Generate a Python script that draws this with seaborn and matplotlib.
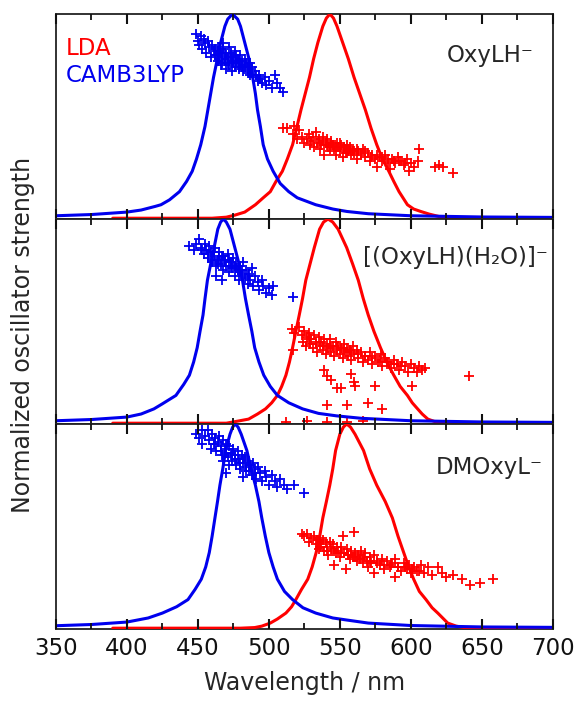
import numpy as np
import pandas as pd
import matplotlib
matplotlib.use('Agg')
import matplotlib.pyplot as plt
import seaborn as sns

# ---- curvas, comprimento de onda em nm / forca normalizada ----
# painel 1: OxyLH-
wl_cam_1 = [350, 375, 400, 410, 420, 424, 430, 437, 442, 446, 449, 452, 455, 457, 459, 461, 464, 466, 469, 471, 474.3,
            478, 480, 483, 486, 488.6, 490.5, 492, 494, 496, 499, 503, 508, 514, 520, 533, 545, 555, 570, 600, 650, 700]
f_cam_1 = [0.012, 0.018, 0.03, 0.04, 0.058, 0.066, 0.09, 0.13, 0.18, 0.23, 0.29, 0.36, 0.45, 0.53, 0.61, 0.69, 0.79, 0.86, 0.94, 0.975, 1.0,
           0.975, 0.94, 0.86, 0.78, 0.69, 0.61, 0.53, 0.45, 0.36, 0.29, 0.23, 0.17, 0.13, 0.10, 0.066, 0.045, 0.033, 0.022, 0.012, 0.006, 0.004]
wl_lda_1 = [390, 460, 470, 476, 483, 490.5, 496, 501, 505, 509.5, 513, 516.7, 519.5, 522.6, 525.6, 528.6, 531.5, 534.5, 538, 540.5, 543,
            545.5, 548, 552, 556, 560, 564, 568, 572, 576, 580, 584.5, 588, 591.7, 597.6, 602, 607, 613, 620, 628, 700]
f_lda_1 = [0.0, 0.0, 0.005, 0.015, 0.03, 0.066, 0.10, 0.13, 0.18, 0.23, 0.29, 0.36, 0.44, 0.53, 0.61, 0.69, 0.78, 0.86, 0.94, 0.98, 1.0,
           0.98, 0.94, 0.86, 0.78, 0.69, 0.61, 0.53, 0.44, 0.36, 0.29, 0.23, 0.18, 0.13, 0.066, 0.045, 0.033, 0.02, 0.008, 0.0, 0.0]

# painel 2: [(OxyLH)(H2O)]-
wl_cam_2 = [350, 375, 400, 410, 419, 425, 434.5, 440, 444, 447, 449.5, 451.5, 453.6, 455, 456.7, 459, 461.4, 464, 466, 467.9,
            470, 472.6, 476, 479, 481.4, 483.5, 485.7, 488, 490, 493, 496.4, 501, 506, 514, 523.8, 535, 547.6, 565, 600, 650, 700]
f_cam_2 = [0.012, 0.018, 0.03, 0.045, 0.07, 0.095, 0.136, 0.19, 0.235, 0.30, 0.37, 0.45, 0.53, 0.61, 0.70, 0.78, 0.86, 0.95, 0.985, 1.0,
           0.985, 0.95, 0.86, 0.78, 0.70, 0.61, 0.53, 0.45, 0.37, 0.30, 0.235, 0.18, 0.136, 0.10, 0.07, 0.048, 0.036, 0.024, 0.012, 0.006, 0.004]
wl_lda_2 = [390, 470, 478, 485.7, 492, 497.6, 502, 506, 509, 512, 514.5, 516.7, 519, 521.4, 523.7, 526, 529, 532, 535.7, 538.5, 541.7,
            545, 548.8, 554.8, 559, 563, 566.5, 570, 574, 578.6, 583, 588, 592.5, 597.6, 601, 604.8, 608, 612, 618, 625, 700]
f_lda_2 = [0.0, 0.0, 0.01, 0.02, 0.045, 0.07, 0.10, 0.136, 0.18, 0.235, 0.30, 0.37, 0.45, 0.53, 0.61, 0.70, 0.78, 0.86, 0.95, 0.985, 1.0,
           0.985, 0.95, 0.86, 0.78, 0.70, 0.61, 0.53, 0.45, 0.37, 0.30, 0.235, 0.18, 0.136, 0.10, 0.07, 0.045, 0.02, 0.005, 0.0, 0.0]

# painel 3: DMOxyL-
wl_cam_3 = [350, 375, 400, 415, 425, 435, 443, 448, 452.4, 455.5, 458, 460, 462, 463.8, 465.5, 467.5, 469.5, 472.6, 474.5, 476.2,
            478.3, 480.5, 484.5, 487.5, 490.5, 493, 495, 497.5, 500, 503, 506, 511, 516.7, 524, 533, 545, 554.8, 570, 600, 650, 700]
f_cam_3 = [0.012, 0.018, 0.03, 0.05, 0.074, 0.105, 0.14, 0.19, 0.24, 0.30, 0.37, 0.45, 0.54, 0.62, 0.70, 0.78, 0.87, 0.95, 0.985, 1.0,
           0.985, 0.95, 0.87, 0.78, 0.70, 0.62, 0.54, 0.45, 0.37, 0.30, 0.24, 0.18, 0.14, 0.10, 0.074, 0.05, 0.04, 0.025, 0.013, 0.006, 0.004]
wl_lda_3 = [390, 480, 490, 495, 501, 506, 512, 516, 519, 523, 527.4, 530.5, 533.3, 535.8, 538, 540.5, 542.9, 545, 547, 550, 552.5, 554.8,
            557.5, 560.7, 566.7, 571, 576, 582, 587, 591, 595, 598.5, 602, 606, 610.7, 615, 619, 626, 632, 640, 700]
f_lda_3 = [0.0, 0.0, 0.003, 0.01, 0.025, 0.045, 0.074, 0.105, 0.14, 0.19, 0.24, 0.30, 0.37, 0.45, 0.54, 0.62, 0.70, 0.78, 0.87, 0.95, 0.985, 1.0,
           0.985, 0.95, 0.87, 0.78, 0.70, 0.62, 0.54, 0.45, 0.37, 0.30, 0.24, 0.18, 0.14, 0.10, 0.074, 0.025, 0.01, 0.0, 0.0]

# ---- pontos individuais (nuvens de cruzes) ----
px_cam_1 = [449, 450, 452, 451, 454, 455, 453, 457, 458, 456, 460, 461, 459, 462, 463, 464, 465, 466, 467, 468, 469, 470, 471, 472,
            473, 474, 475, 476, 477, 478, 479, 480, 481, 482, 483, 484, 485, 486, 487, 488, 466, 470, 474, 468, 472, 476, 480,
            489, 490, 492, 493, 495, 497, 498, 500, 502, 504, 506, 508, 510,
            462, 465, 469, 473, 477, 481, 485, 464, 467, 471, 475, 479, 483, 487, 491, 494]
py_cam_1 = [0.90, 0.87, 0.89, 0.85, 0.88, 0.86, 0.83, 0.87, 0.84, 0.81, 0.85, 0.82, 0.79, 0.83, 0.80, 0.84, 0.78, 0.81, 0.79, 0.83,
            0.77, 0.80, 0.78, 0.75, 0.81, 0.77, 0.79, 0.74, 0.76, 0.78, 0.73, 0.75, 0.77, 0.72, 0.74, 0.76, 0.71, 0.73, 0.70, 0.74,
            0.75, 0.73, 0.72, 0.86, 0.84, 0.82, 0.80, 0.69, 0.72, 0.67, 0.70, 0.66, 0.69, 0.65, 0.67, 0.64, 0.70, 0.66, 0.64, 0.62,
            0.80, 0.82, 0.81, 0.79, 0.80, 0.74, 0.75, 0.77, 0.76, 0.76, 0.76, 0.77, 0.78, 0.76, 0.70, 0.68]
px_lda_1 = [510, 513, 517, 518, 520, 521, 523, 525, 527, 528, 529, 530, 531, 532, 533, 534, 535, 536, 537, 538, 539, 540, 541, 542,
            543, 544, 545, 546, 547, 548, 549, 550, 551, 552, 553, 554, 555, 556, 557, 558, 559, 560, 562, 563, 565, 566, 568, 570,
            571, 573, 575, 576, 578, 580, 582, 584, 585, 587, 589, 591, 593, 595, 597, 599, 600, 602, 606, 605, 617, 620, 623, 630,
            538, 541, 544, 547, 550, 553, 556, 559, 562, 565, 568, 572, 576, 580, 584, 588, 592, 596]
py_lda_1 = [0.44, 0.44, 0.41, 0.45, 0.39, 0.43, 0.40, 0.37, 0.39, 0.41, 0.36, 0.38, 0.40, 0.35, 0.42, 0.37, 0.39, 0.34, 0.36, 0.40,
            0.31, 0.37, 0.39, 0.35, 0.33, 0.38, 0.36, 0.34, 0.31, 0.37, 0.35, 0.33, 0.36, 0.30, 0.34, 0.32, 0.36, 0.33, 0.35, 0.31,
            0.34, 0.32, 0.29, 0.33, 0.31, 0.34, 0.30, 0.32, 0.28, 0.31, 0.29, 0.25, 0.30, 0.28, 0.31, 0.27, 0.24, 0.29, 0.27, 0.30,
            0.28, 0.26, 0.29, 0.23, 0.27, 0.25, 0.34, 0.28, 0.25, 0.26, 0.25, 0.22,
            0.38, 0.36, 0.37, 0.35, 0.37, 0.35, 0.34, 0.33, 0.34, 0.32, 0.33, 0.30, 0.31, 0.30, 0.29, 0.28, 0.28, 0.27]

px_cam_2 = [444, 447, 449, 451, 452, 454, 455, 456, 457, 458, 459, 460, 461, 462, 463, 463, 464, 465, 466, 467, 467, 468, 469, 470,
            471, 472, 473, 474, 475, 476, 477, 478, 479, 480, 481, 482, 483, 484, 485, 486, 487, 488, 489, 490, 492, 493, 495, 496,
            498, 500, 502, 503, 517,
            453, 457, 461, 465, 469, 473, 477, 481, 485, 460, 464, 468, 472, 476, 480]
py_cam_2 = [0.87, 0.85, 0.88, 0.90, 0.86, 0.83, 0.88, 0.85, 0.81, 0.87, 0.84, 0.79, 0.82, 0.86, 0.77, 0.72, 0.80, 0.84, 0.78, 0.82,
            0.70, 0.75, 0.80, 0.77, 0.83, 0.74, 0.79, 0.76, 0.81, 0.72, 0.78, 0.75, 0.70, 0.77, 0.73, 0.79, 0.71, 0.75, 0.68, 0.73,
            0.70, 0.76, 0.67, 0.72, 0.69, 0.65, 0.70, 0.67, 0.64, 0.66, 0.63, 0.67, 0.62,
            0.85, 0.83, 0.84, 0.81, 0.79, 0.77, 0.76, 0.75, 0.72, 0.80, 0.78, 0.82, 0.80, 0.77, 0.74]
px_lda_2 = [516, 518, 521, 517, 523, 524, 525, 526, 527, 528, 529, 530, 531, 532, 533, 534, 535, 536, 537, 538, 539, 540, 541, 542,
            543, 544, 545, 546, 547, 548, 549, 550, 551, 552, 553, 554, 555, 556, 557, 558, 559, 560, 562, 563, 565, 566, 568, 570,
            571, 573, 575, 577, 579, 580, 582, 584, 586, 588, 590, 592, 594, 596, 598, 600, 602, 604, 606, 608, 610,
            539, 541, 544, 548, 551, 558, 560, 561, 575, 601, 641, 541, 555, 570, 580, 512, 527, 541, 555, 566,
            528, 533, 538, 543, 548, 553, 558, 563, 568, 573, 578, 583, 588, 593]
py_lda_2 = [0.46, 0.44, 0.47, 0.36, 0.43, 0.40, 0.45, 0.38, 0.42, 0.44, 0.39, 0.41, 0.37, 0.43, 0.40, 0.35, 0.42, 0.38, 0.40, 0.36,
            0.41, 0.34, 0.39, 0.37, 0.41, 0.35, 0.38, 0.33, 0.40, 0.36, 0.38, 0.34, 0.37, 0.32, 0.39, 0.35, 0.37, 0.33, 0.36, 0.31,
            0.38, 0.34, 0.36, 0.32, 0.35, 0.30, 0.33, 0.31, 0.35, 0.29, 0.33, 0.30, 0.34, 0.28, 0.32, 0.30, 0.27, 0.31, 0.29, 0.26,
            0.30, 0.28, 0.25, 0.29, 0.27, 0.25, 0.28, 0.26, 0.27,
            0.26, 0.23, 0.21, 0.17, 0.17, 0.24, 0.20, 0.18, 0.18, 0.18, 0.23, 0.09, 0.09, 0.10, 0.07, 0.005, 0.01, 0.005, 0.005, 0.01,
            0.41, 0.39, 0.38, 0.38, 0.37, 0.36, 0.35, 0.34, 0.33, 0.32, 0.31, 0.30, 0.29, 0.28]

px_cam_3 = [449, 451, 453, 453, 455, 457, 458, 459, 460, 461, 462, 463, 464, 465, 466, 467, 468, 469, 470, 470, 471, 472, 473, 474,
            475, 476, 477, 478, 479, 480, 481, 482, 482, 483, 484, 485, 486, 487, 488, 489, 490, 491, 492, 494, 495, 497, 498, 500,
            502, 504, 506, 508, 511, 513, 518, 525,
            462, 466, 470, 474, 478, 482, 486, 490, 468, 472, 476, 480, 484]
py_cam_3 = [0.95, 0.93, 0.97, 0.90, 0.94, 0.97, 0.92, 0.88, 0.95, 0.90, 0.93, 0.87, 0.91, 0.94, 0.89, 0.85, 0.92, 0.88, 0.76, 0.90,
            0.84, 0.89, 0.86, 0.82, 0.88, 0.85, 0.80, 0.87, 0.83, 0.78, 0.85, 0.74, 0.81, 0.84, 0.79, 0.82, 0.77, 0.80, 0.75, 0.81,
            0.78, 0.73, 0.79, 0.76, 0.72, 0.77, 0.74, 0.70, 0.75, 0.72, 0.69, 0.73, 0.70, 0.68, 0.70, 0.66,
            0.90, 0.87, 0.86, 0.85, 0.83, 0.83, 0.80, 0.76, 0.82, 0.80, 0.83, 0.81, 0.77]
px_lda_3 = [523, 525, 527, 528, 530, 532, 533, 534, 535, 536, 537, 538, 539, 540, 541, 542, 543, 544, 545, 546, 547, 548, 549, 550,
            551, 552, 553, 554, 555, 556, 557, 558, 559, 560, 561, 562, 563, 564, 565, 566, 567, 568, 569, 570, 571, 572, 574, 574,
            576, 578, 580, 581, 583, 585, 587, 589, 589, 591, 593, 595, 597, 599, 600, 602, 604, 607, 609, 612, 615, 619, 622, 625,
            630, 636, 642, 649, 658,
            536, 541, 546, 551, 556, 561, 566, 571, 576, 581, 586, 591, 596, 601, 606]
py_lda_3 = [0.46, 0.45, 0.46, 0.42, 0.44, 0.45, 0.41, 0.43, 0.39, 0.44, 0.41, 0.43, 0.38, 0.42, 0.40, 0.36, 0.42, 0.39, 0.41, 0.31,
            0.37, 0.40, 0.38, 0.35, 0.40, 0.45, 0.37, 0.29, 0.39, 0.36, 0.34, 0.38, 0.35, 0.47, 0.37, 0.33, 0.36, 0.34, 0.38, 0.32,
            0.35, 0.37, 0.33, 0.30, 0.35, 0.32, 0.27, 0.36, 0.33, 0.31, 0.34, 0.29, 0.33, 0.30, 0.32, 0.25, 0.34, 0.30, 0.28, 0.32,
            0.29, 0.31, 0.27, 0.30, 0.28, 0.31, 0.27, 0.30, 0.26, 0.30, 0.27, 0.25, 0.26, 0.24, 0.21, 0.22, 0.24,
            0.40, 0.38, 0.38, 0.37, 0.36, 0.35, 0.34, 0.33, 0.32, 0.31, 0.31, 0.30, 0.30, 0.29, 0.28]

paineis = [
    (wl_cam_1, f_cam_1, wl_lda_1, f_lda_1, px_cam_1, py_cam_1, px_lda_1, py_lda_1, 'OxyLH\u207b', 0.962, 0.80),
    (wl_cam_2, f_cam_2, wl_lda_2, f_lda_2, px_cam_2, py_cam_2, px_lda_2, py_lda_2, '[(OxyLH)(H\u2082O)]\u207b', 0.99, 0.81),
    (wl_cam_3, f_cam_3, wl_lda_3, f_lda_3, px_cam_3, py_cam_3, px_lda_3, py_lda_3, 'DMOxyL\u207b', 0.98, 0.79),
]

sns.set_style('ticks')
plt.rcParams['font.family'] = ['DejaVu Sans']
plt.rcParams.update({
    'axes.axisbelow': False,
    'xtick.direction': 'in', 'xtick.top': True, 'xtick.bottom': True,
    'xtick.major.size': 7, 'xtick.minor.size': 4.5,
    'xtick.major.width': 1.5, 'xtick.minor.width': 1.3,
    'xtick.color': '#111111',
})

azul = '#0000ee'
vermelho = '#ff0000'

fig, axes = plt.subplots(3, 1, figsize=(5.77, 7.02), dpi=100, sharex=True)
fig.subplots_adjust(left=0.097, right=0.958, bottom=0.104, top=0.980, hspace=0)

for ax, (wc, fc, wlda, flda, xc, yc, xl, yl, nome, tx, ty) in zip(axes, paineis):
    sns.lineplot(x=wlda, y=flda, color=vermelho, lw=2.2, sort=False, estimator=None, ax=ax)
    sns.lineplot(x=wc, y=fc, color=azul, lw=2.2, sort=False, estimator=None, ax=ax)
    sns.scatterplot(x=xc, y=yc, color=azul, marker='+', s=45, linewidth=1.3, ax=ax)
    sns.scatterplot(x=xl, y=yl, color=vermelho, marker='+', s=45, linewidth=1.3, ax=ax)
    ax.set_xlim(350, 700)
    ax.set_ylim(-0.004, 1.0)
    ax.set_yticks([])
    ax.set_xticks(np.arange(350, 701, 50))
    ax.set_xticks(np.arange(375, 700, 50), minor=True)
    ax.tick_params(axis='x', which='major', labelsize=16.5, pad=6)
    ax.set_axisbelow(False)
    for s in ax.spines.values():
        s.set_linewidth(1.3)
        s.set_color('#222222')
        s.set_zorder(0.5)
    ax.text(tx, ty, nome, transform=ax.transAxes, ha='right', va='center', fontsize=16.5)
    ax.set_ylabel('')

axes[0].text(0.02, 0.83, 'LDA', color=vermelho, transform=axes[0].transAxes, ha='left', va='center', fontsize=16.5)
axes[0].text(0.02, 0.70, 'CAMB3LYP', color=azul, transform=axes[0].transAxes, ha='left', va='center', fontsize=16.5)

axes[2].set_xlabel('Wavelength / nm', fontsize=17, labelpad=8)
fig.text(0.04, 0.523, 'Normalized oscillator strength', rotation=90, ha='center', va='center', fontsize=17)

plt.savefig('out.png', dpi=100)
